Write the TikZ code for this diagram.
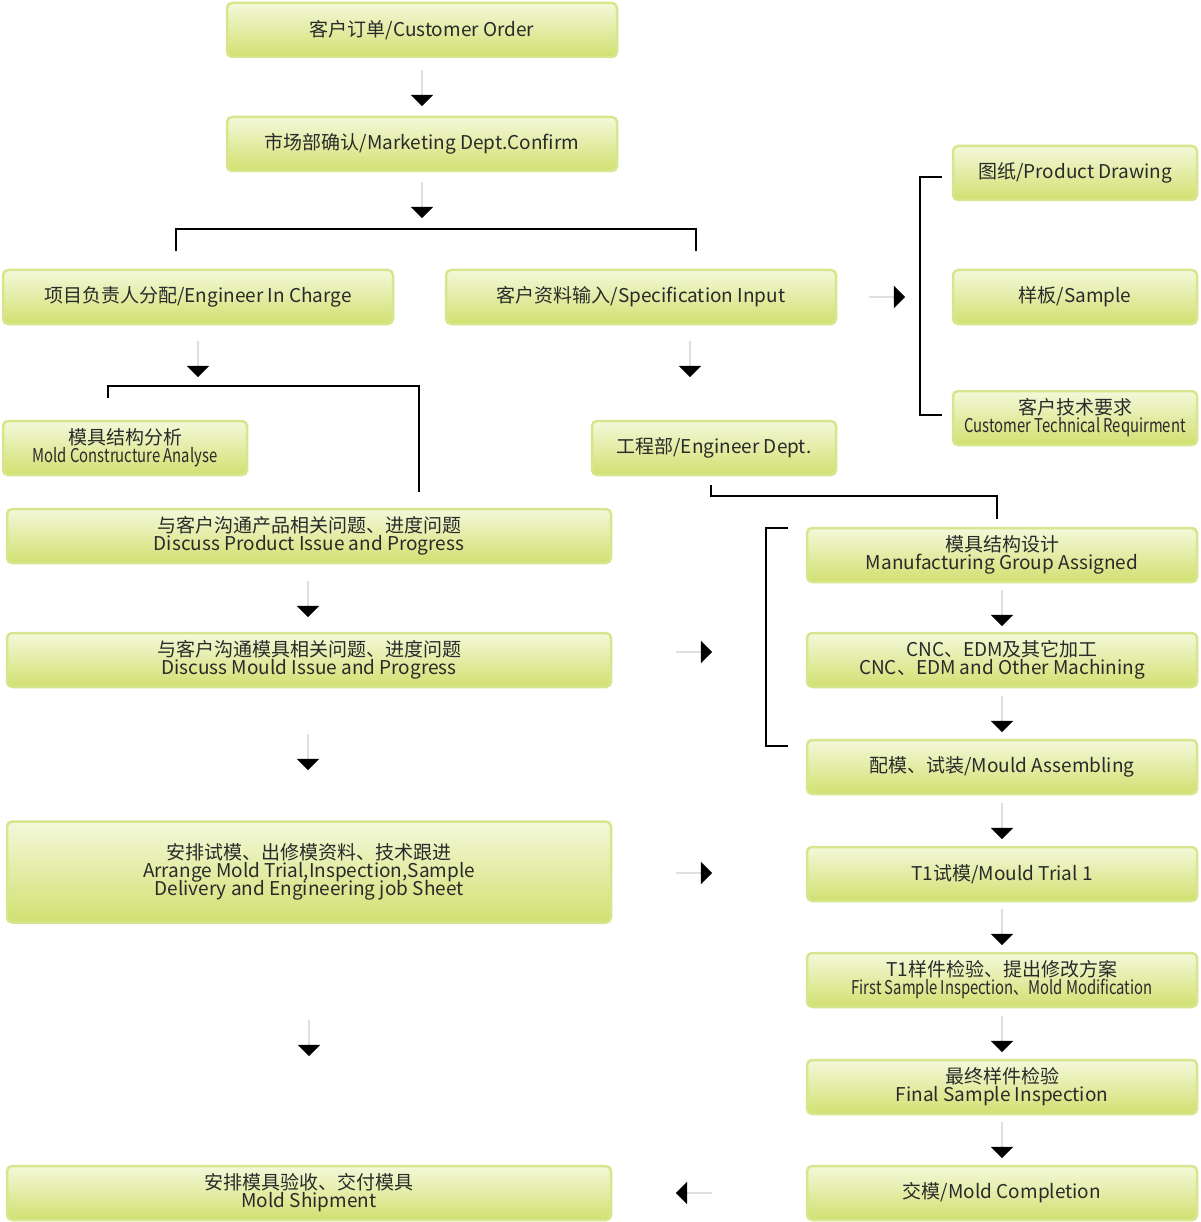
\documentclass[tikz,border=0pt]{standalone}
\usepackage{fontspec}
\setmainfont{Noto Sans CJK SC}
\newfontfamily\narrowfont[FakeStretch=0.78]{Noto Sans CJK SC}
\usetikzlibrary{shapes.arrows}
\definecolor{boxline}{HTML}{D6E68C}
\definecolor{boxtop}{HTML}{F4F8DA}
\definecolor{boxbot}{HTML}{D2E070}
\definecolor{txt}{HTML}{2A2A2A}

\begin{document}
\begin{tikzpicture}[
    x=1pt, y=-1pt,
    box/.style={draw=boxline, line width=2.5pt, rounded corners=5pt, top color=boxtop, bottom color=boxbot,
        minimum height=54pt, inner sep=0pt, align=center, text=txt,
        font=\fontsize{19}{21}\selectfont},
    wide/.style={box, minimum width=390pt},
    short/.style={box, minimum width=244pt},
    long/.style={box, minimum width=604pt},
    blk/.style={single arrow, fill=black, minimum height=36pt, minimum width=12pt,
        single arrow head extend=11pt, single arrow head indent=0pt, inner sep=0pt, shape border rotate=#1},
    br/.style={line width=1.5pt}
]
\useasboundingbox (0,0) rectangle (1200,1222);

% Left column
\node[wide] (order) at (422,30) {客户订单/Customer Order};
\node[wide] (market) at (422,144) {市场部确认/Marketing Dept.Confirm};
\node[wide] (charge) at (198,297) {项目负责人分配/Engineer In Charge};
\node[wide] (spec) at (641,297) {客户资料输入/Specification Input};
\node[short] (analyse) at (125,448) {模具结构分析\\[-3pt]{\narrowfont Mold Constructure Analyse}};
\node[short] (engdept) at (714,448) {工程部/Engineer Dept.};
\node[long] (product) at (309,536) {与客户沟通产品相关问题、进度问题\\[-3pt]Discuss Product Issue and Progress};
\node[long] (mould) at (309,660) {与客户沟通模具相关问题、进度问题\\[-3pt]Discuss Mould Issue and Progress};
\node[long, minimum height=101pt] (arrange) at (309,872) {安排试模、出修模资料、技术跟进\\[-3pt]Arrange Mold Trial,Inspection,Sample\\[-3pt]Delivery and Engineering job Sheet};
\node[long] (ship) at (309,1193) {安排模具验收、交付模具\\[-3pt]Mold Shipment};

% Right column
\node[short] (drawing) at (1075,173) {图纸/Product Drawing};
\node[short] (sample) at (1075,297) {样板/Sample};
\node[short] (techreq) at (1075,418) {客户技术要求\\[-3pt]{\narrowfont Customer Technical Requirment}};
\node[wide] (design) at (1002,555) {模具结构设计\\[-3pt]Manufacturing Group Assigned};
\node[wide] (cnc) at (1002,660) {CNC、EDM及其它加工\\[-3pt]CNC、EDM and Other Machining};
\node[wide] (assem) at (1002,767) {配模、试装/Mould Assembling};
\node[wide] (trial) at (1002,874) {T1试模/Mould Trial 1};
\node[wide] (inspect) at (1002,980) {T1样件检验、提出修改方案\\[-3pt]{\narrowfont First Sample Inspection、Mold Modification}};
\node[wide] (final) at (1002,1087) {最终样件检验\\[-3pt]Final Sample Inspection};
\node[wide] (complete) at (1002,1193) {交模/Mold Completion};

% Block arrows
\node[blk=270] (a1) at (422,88) {};
\node[blk=270] (a2) at (422,200) {};
\node[blk=270] (a3) at (198,359) {};
\node[blk=270] (a4) at (690,359) {};
\node[blk=270] (a5) at (308,599) {};
\node[blk=270] (a6) at (308,752) {};
\node[blk=270] (a7) at (309,1038) {};
\foreach \y [count=\i] in {608,714,821,927,1034,1140}
    \node[blk=270] (r\i) at (1002,\y) {};
\node[blk=0] (h1) at (887,297) {};
\node[blk=0] (h2) at (694,652) {};
\node[blk=0] (h3) at (694,873) {};
\node[blk=180] (h4) at (694,1193) {};

% Brackets
\draw[br] (176,251) -- (176,229) -- (696,229) -- (696,251);
\draw[br] (108,398) -- (108,386) -- (419,386) -- (419,492);
\draw[br] (711,485) -- (711,496) -- (997,496) -- (997,519);
\draw[br] (942,177) -- (920,177) -- (920,415) -- (942,415);
\draw[br] (788,528) -- (766,528) -- (766,746) -- (788,746);

\end{tikzpicture}
\end{document}
